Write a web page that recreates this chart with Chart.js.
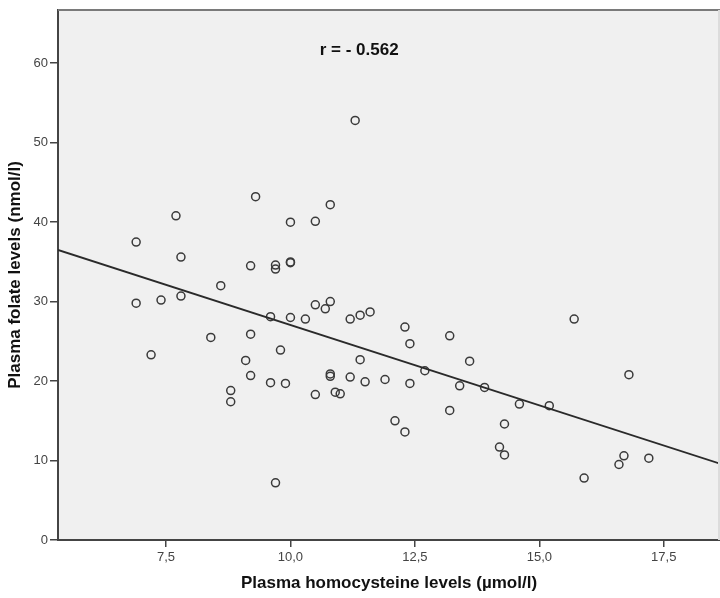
<!DOCTYPE html>
<html>
<head>
<meta charset="utf-8">
<script src="https://cdn.jsdelivr.net/npm/chart.js@4/dist/chart.umd.min.js"></script>
<style>
  html, body { margin: 0; padding: 0; background: #ffffff; overflow: hidden; }
  #wrap { width: 720px; height: 598px; overflow: hidden; }
  canvas { display: block; }
</style>
</head>
<body>
<div id="wrap"><canvas id="c" width="720" height="598"></canvas></div>
<script>
// ---- data ----
const homocysteine = [6.9, 6.9, 7.2, 7.4, 7.7, 7.8, 7.8, 8.4, 8.6, 8.8, 8.8, 9.1, 9.2, 9.2, 9.2, 9.3,
  9.6, 9.6, 9.7, 9.7, 9.7, 9.8, 9.9, 10.0, 10.0, 10.0, 10.0, 10.3, 10.5, 10.5, 10.5, 10.7,
  10.8, 10.8, 10.8, 10.8, 10.9, 11.0, 11.2, 11.2, 11.3, 11.4, 11.4, 11.5, 11.6, 11.9, 12.1,
  12.3, 12.3, 12.4, 12.4, 12.7, 13.2, 13.2, 13.4, 13.6, 13.9, 14.2, 14.3, 14.3, 14.6, 15.2,
  15.7, 15.9, 16.6, 16.7, 16.8, 17.2];
const folate = [37.5, 29.8, 23.3, 30.2, 40.8, 35.6, 30.7, 25.5, 32.0, 18.8, 17.4, 22.6, 34.5, 25.9, 20.7, 43.2,
  28.1, 19.8, 34.6, 34.1, 7.2, 23.9, 19.7, 40.0, 35.0, 34.9, 28.0, 27.8, 40.1, 29.6, 18.3, 29.1,
  42.2, 30.0, 20.9, 20.6, 18.6, 18.4, 27.8, 20.5, 52.8, 28.3, 22.7, 19.9, 28.7, 20.2, 15.0,
  26.8, 13.6, 24.7, 19.7, 21.3, 25.7, 16.3, 19.4, 22.5, 19.2, 11.7, 14.6, 10.7, 17.1, 16.9,
  27.8, 7.8, 9.5, 10.6, 20.8, 10.3];
// fit line end points as read at the plot edges
const fitX = [5.33, 18.63];
const fitY = [36.5, 9.6];
const xTicks = [7.5, 10.0, 12.5, 15.0, 17.5];
const yTicks = [0, 10, 20, 30, 40, 50, 60];
const xRange = [5.33, 18.63];
const yRange = [0, 66.7];
const rLabel = 'r = - 0.562';
const rLabelAt = [11.38, 61.6];
const xTitle = 'Plasma homocysteine levels (µmol/l)';
const yTitle = 'Plasma folate levels (nmol/l)';

const points = homocysteine.map((x, i) => ({ x: x, y: folate[i] }));
const fitLine = fitX.map((x, i) => ({ x: x, y: fitY[i] }));

const FONT = "'Liberation Sans', Arial, sans-serif";

const frame = {
  id: 'frame',
  beforeDraw(chart) {
    const a = chart.chartArea, ctx = chart.ctx;
    ctx.save();
    ctx.fillStyle = '#f0f0f0';
    ctx.fillRect(a.left, a.top, a.right - a.left, a.bottom - a.top);
    ctx.restore();
  },
  afterDraw(chart) {
    const a = chart.chartArea, ctx = chart.ctx;
    ctx.save();
    ctx.strokeStyle = '#7a7a7a';
    ctx.lineWidth = 2;
    ctx.beginPath();
    ctx.moveTo(a.left, a.top);
    ctx.lineTo(a.right, a.top);
    ctx.stroke();
    ctx.strokeStyle = '#dcdcdc';
    ctx.beginPath();
    ctx.moveTo(a.right - 1, a.top);
    ctx.lineTo(a.right - 1, a.bottom);
    ctx.stroke();
    // r label
    const xs = chart.scales.x, ys = chart.scales.y;
    ctx.fillStyle = '#111';
    ctx.font = "bold 17px " + FONT;
    ctx.textAlign = 'center';
    ctx.textBaseline = 'middle';
    ctx.fillText(rLabel, xs.getPixelForValue(rLabelAt[0]), ys.getPixelForValue(rLabelAt[1]));
    ctx.restore();
  }
};

const fmt = v => {
  const s = (Math.round(v * 10) / 10).toFixed(1);
  return s.replace('.', ',');
};

new Chart(document.getElementById('c'), {
  data: {
    datasets: [
      {
        type: 'scatter',
        data: points,
        pointStyle: 'circle',
        pointRadius: 4,
        pointHoverRadius: 4,
        borderWidth: 1.5,
        borderColor: '#3a3a3a',
        backgroundColor: 'rgba(0,0,0,0)',
        order: 2
      },
      {
        type: 'line',
        data: fitLine,
        borderColor: '#2a2a2a',
        borderWidth: 1.8,
        pointRadius: 0,
        fill: false,
        tension: 0,
        order: 1
      }
    ]
  },
  options: {
    responsive: false,
    devicePixelRatio: 1,
    animation: false,
    events: [],
    layout: { autoPadding: false, padding: { top: 10, right: 0, bottom: 0, left: 0 } },
    plugins: { legend: { display: false }, tooltip: { enabled: false } },
    scales: {
      x: {
        type: 'linear',
        min: xRange[0],
        max: xRange[1],
        afterFit(s) { s.height = 58; s.paddingRight = 0; s.paddingLeft = 0; },
        afterBuildTicks(s) { s.ticks = xTicks.map(v => ({ value: v })); },
        grid: { drawOnChartArea: false, drawTicks: true, tickLength: 7, color: '#444', lineWidth: 1.5 },
        border: { display: true, color: '#444', width: 2 },
        ticks: {
          padding: 3,
          color: '#444',
          font: { family: FONT, size: 13 },
          maxRotation: 0,
          autoSkip: false,
          callback: v => fmt(v)
        },
        title: {
          display: true,
          text: xTitle,
          color: '#111',
          font: { family: FONT, size: 17, weight: 'bold' },
          padding: { top: 0, bottom: 4 }
        }
      },
      y: {
        type: 'linear',
        min: yRange[0],
        max: yRange[1],
        afterFit(s) { s.width = 58; s.paddingTop = 0; s.paddingBottom = 0; },
        afterBuildTicks(s) { s.ticks = yTicks.map(v => ({ value: v })); },
        grid: { drawOnChartArea: false, drawTicks: true, tickLength: 8, color: '#444', lineWidth: 1.5 },
        border: { display: true, color: '#444', width: 2 },
        ticks: {
          padding: 2,
          color: '#444',
          font: { family: FONT, size: 13 },
          autoSkip: false,
          callback: v => String(v)
        },
        title: {
          display: true,
          text: yTitle,
          color: '#111',
          font: { family: FONT, size: 17, weight: 'bold' },
          padding: { top: 5, bottom: 0 }
        }
      }
    }
  },
  plugins: [frame]
});
</script>
</body>
</html>
